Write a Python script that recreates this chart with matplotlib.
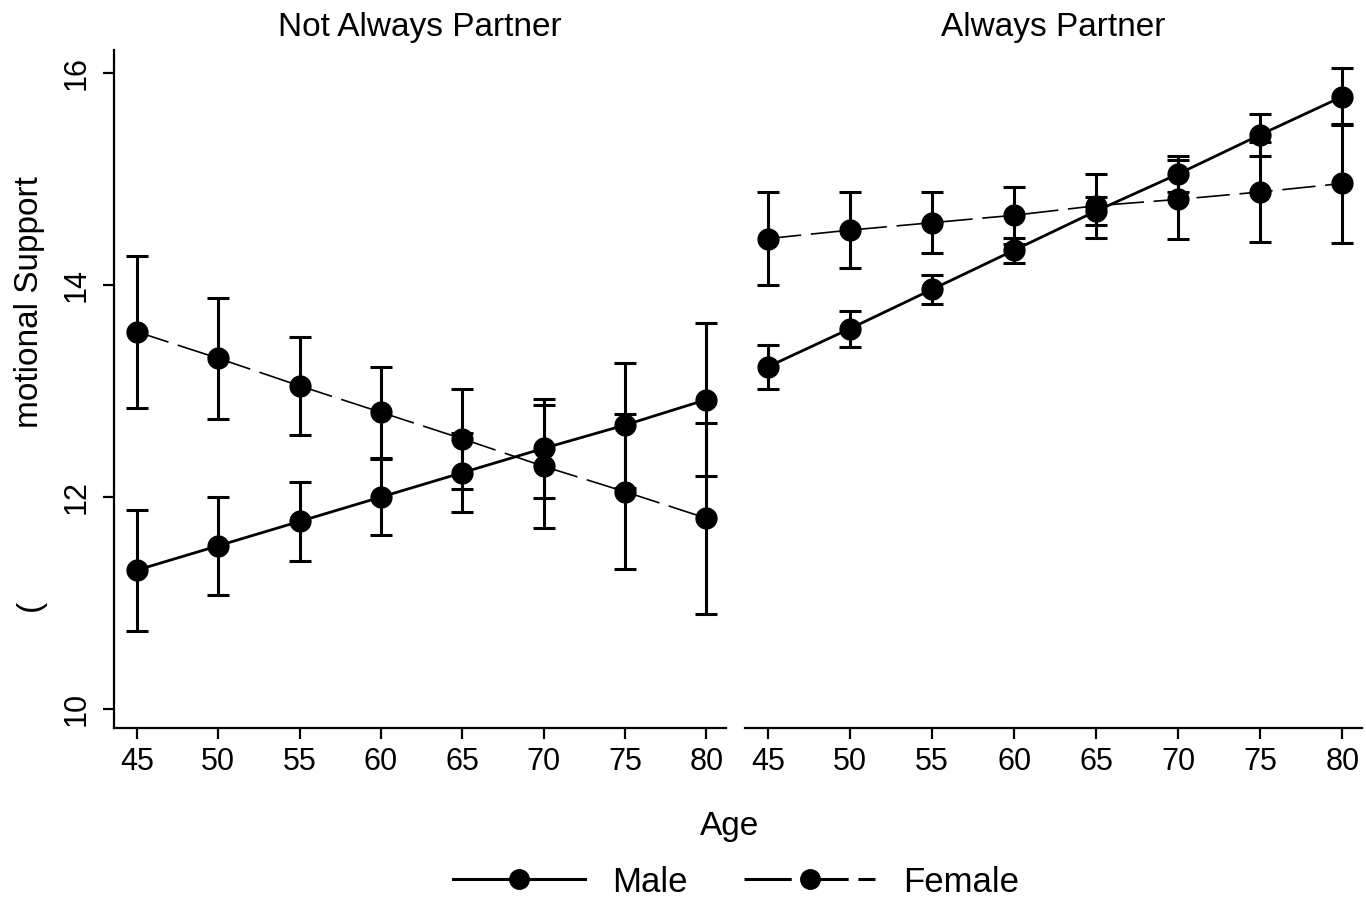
import matplotlib
matplotlib.use("Agg")
import matplotlib.pyplot as plt
from matplotlib.lines import Line2D

plt.rcParams['font.family'] = ['Liberation Sans', 'DejaVu Sans']
plt.rcParams['lines.scale_dashes'] = False

ages = [45, 50, 55, 60, 65, 70, 75, 80]
panels = ["Not Always Partner", "Always Partner"]

# Not Always Partner
nap_male = [11.31, 11.54, 11.77, 12.00, 12.23, 12.46, 12.68, 12.92]
nap_male_err = [0.57, 0.46, 0.37, 0.36, 0.37, 0.47, 0.59, 0.72]
nap_female = [13.56, 13.31, 13.05, 12.80, 12.55, 12.29, 12.05, 11.80]
nap_female_err = [0.72, 0.57, 0.46, 0.43, 0.47, 0.58, 0.73, 0.90]

# Always Partner
ap_male = [13.23, 13.59, 13.96, 14.33, 14.70, 15.05, 15.42, 15.78]
ap_male_err = [0.21, 0.17, 0.14, 0.12, 0.13, 0.17, 0.20, 0.27]
ap_female = [14.44, 14.52, 14.59, 14.66, 14.75, 14.81, 14.88, 14.96]
ap_female_err = [0.44, 0.36, 0.29, 0.27, 0.30, 0.37, 0.47, 0.56]

data = [
    (nap_male, nap_male_err, nap_female, nap_female_err),
    (ap_male, ap_male_err, ap_female, ap_female_err),
]

fig = plt.figure(figsize=(13.66, 9.01), dpi=100)
ax1 = fig.add_axes([114/1366, 1-728/901, 612/1366, 678/901])
ax2 = fig.add_axes([745/1366, 1-728/901, 617/1366, 678/901])

fs_tick = 22
fs_lab = 24
dash = (24, 7)
for ax, title, (m, me, f, fe) in zip([ax1, ax2], panels, data):
    ax.errorbar(ages, m, yerr=me, color='black', lw=2.0, marker='o', ms=15,
                capsize=8, capthick=2.2, elinewidth=2.2, zorder=3)
    ln = ax.errorbar(ages, f, yerr=fe, color='black', lw=1.2, marker='o', ms=15,
                     capsize=8, capthick=2.2, elinewidth=2.2, zorder=3)
    ln[0].set_dashes(dash)
    ax.set_xlim(43.6, 81.2)
    ax.set_ylim(9.82, 16.22)
    ax.set_xticks(ages)
    ax.tick_params(axis='x', labelsize=fs_tick, length=8, width=1.6, pad=6)
    ax.set_title(title, fontsize=fs_lab, pad=10)
    for s in ['top', 'right']:
        ax.spines[s].set_visible(False)
    ax.spines['bottom'].set_linewidth(1.6)
    ax.spines['left'].set_linewidth(1.6)

ax1.set_yticks([10, 12, 14, 16])
ax1.tick_params(axis='y', labelsize=fs_tick, length=8, width=1.6, pad=8)
for lab in ax1.get_yticklabels():
    lab.set_rotation(90)
    lab.set_va('center')
ax2.spines['left'].set_visible(False)
ax2.set_yticks([])

fig.text(730/1366, 1-826/901, "Age", fontsize=fs_lab, ha='center', va='center')
fig.text(30/1366, 1-302/901, "motional Support", fontsize=fs_lab, rotation=90,
         ha='center', va='center')
fig.text(30/1366, 1-605/901, "(", fontsize=fs_lab, rotation=90,
         ha='center', va='center')

h_m = Line2D([], [], color='black', lw=2.2, marker='o', ms=14)
h_f = Line2D([], [], color='black', lw=2.2, marker='o', ms=14, dashes=(34, 7))
fig.legend([h_m, h_f], ["Male", "Female"], loc='center',
           bbox_to_anchor=(736/1366, 1-882/901), ncol=2, frameon=False,
           fontsize=25, handlelength=3.8, columnspacing=1.6, handletextpad=0.8)

fig.savefig("out.png", dpi=100)
